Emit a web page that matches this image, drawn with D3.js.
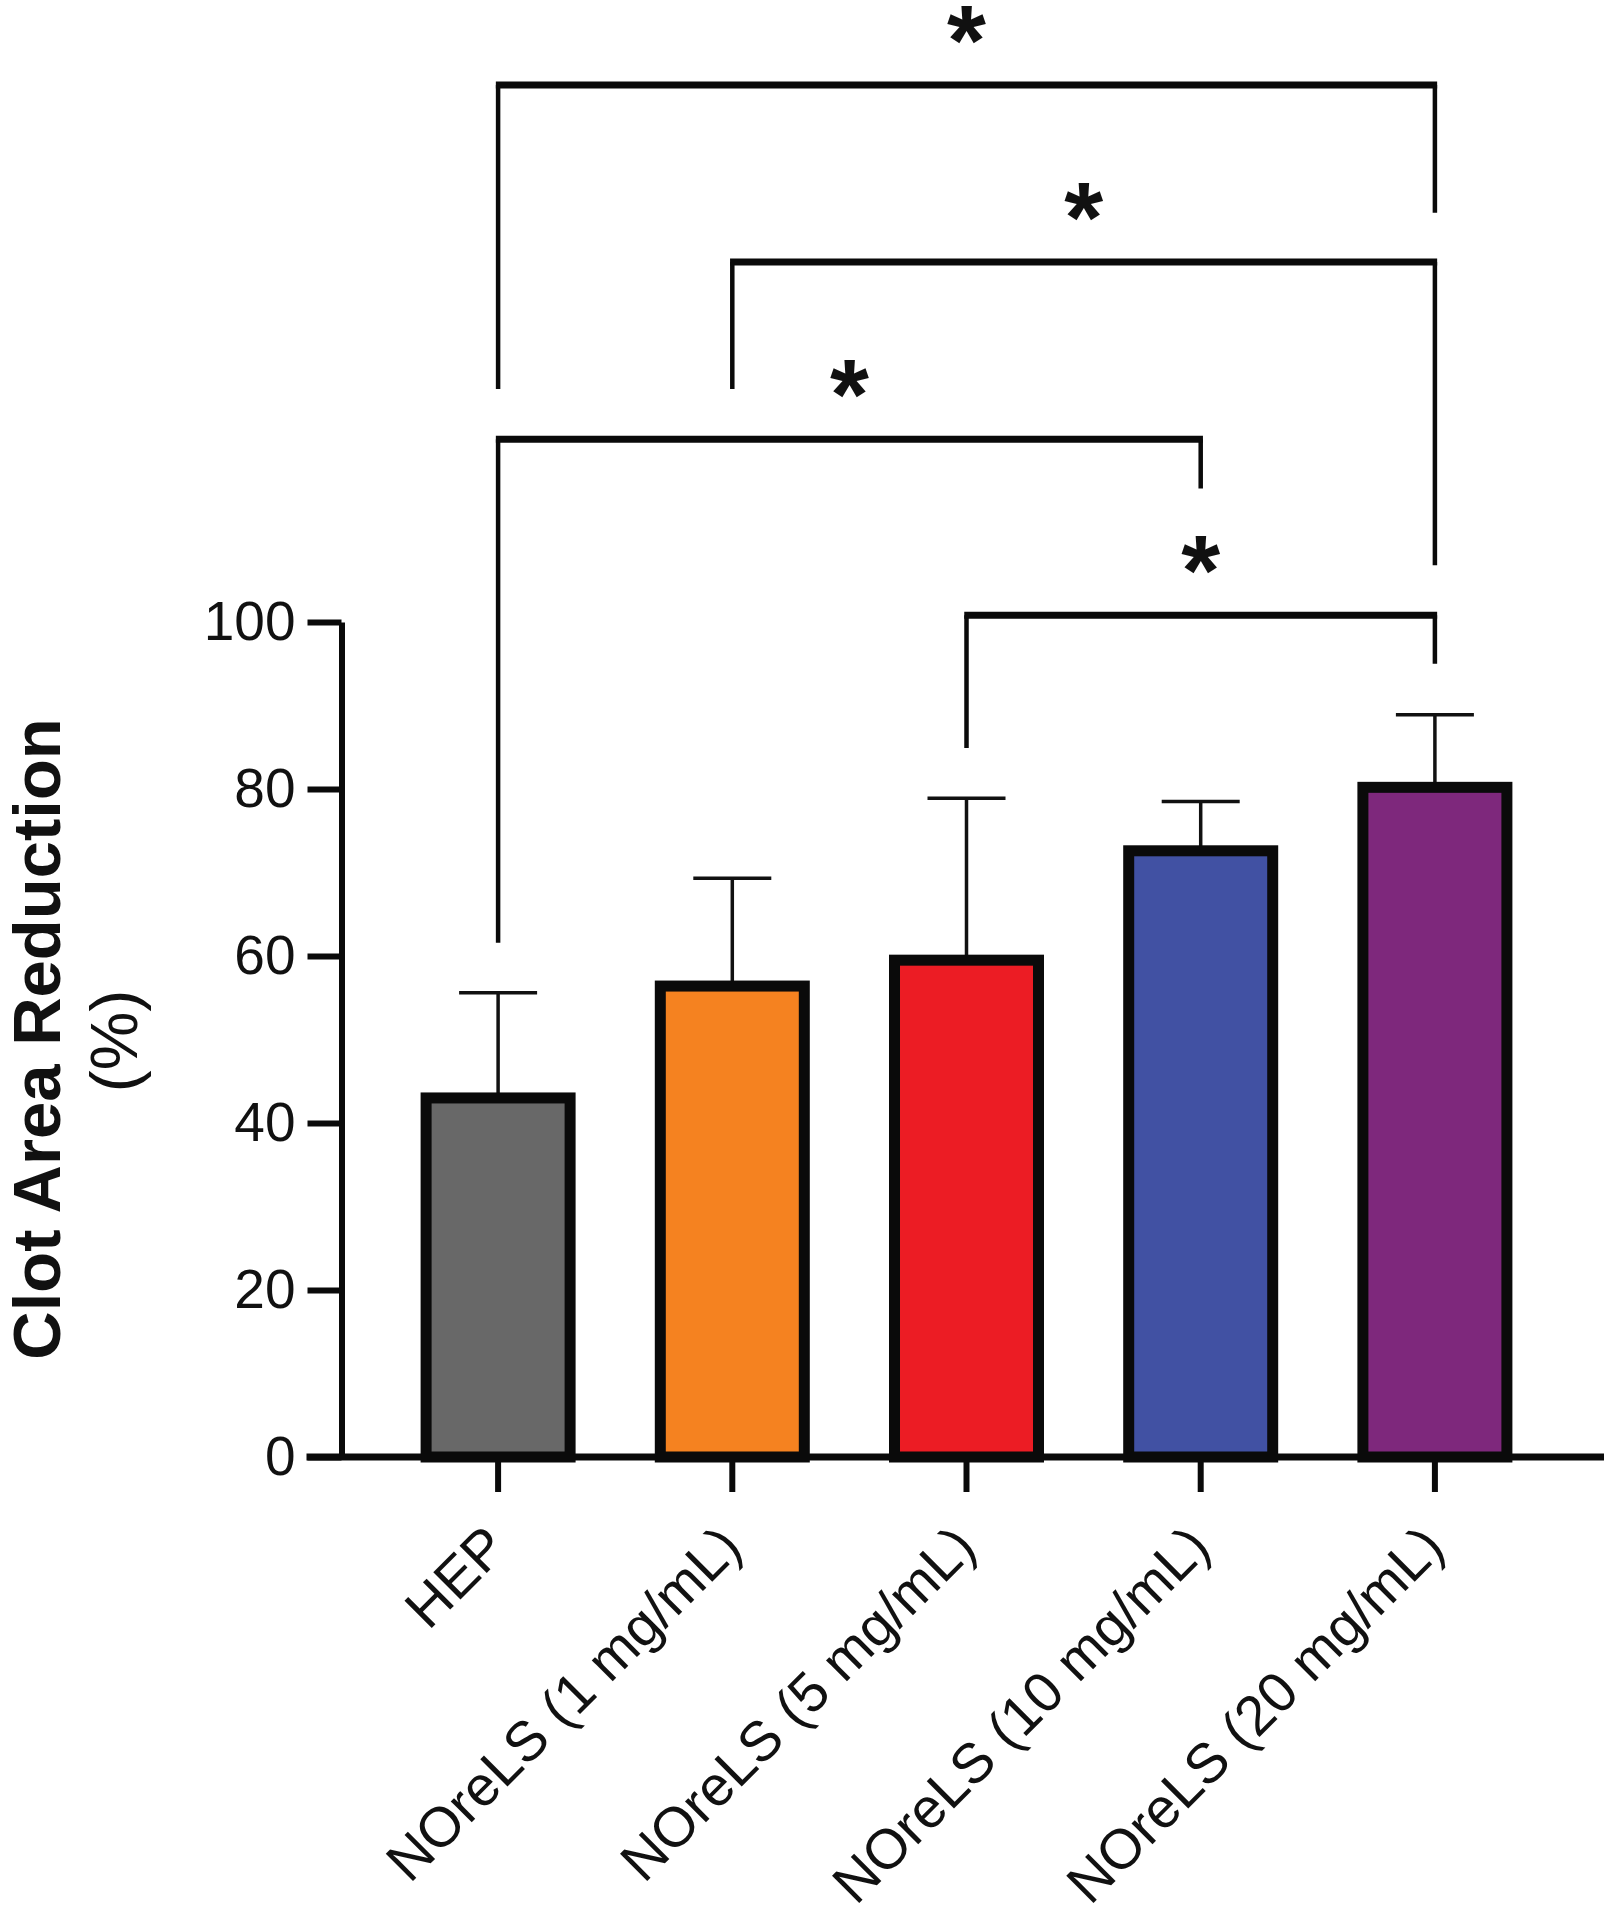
<!DOCTYPE html>
<html>
<head>
<meta charset="utf-8">
<script src="https://cdn.jsdelivr.net/npm/d3@7"></script>
<style>
  html, body { margin: 0; padding: 0; background: #ffffff; }
  svg { display: block; }
  text { font-family: "Liberation Sans", Arial, Helvetica, sans-serif; fill: #111; }
</style>
</head>
<body>
<div id="chart"></div>
<script>
// ---------- data ----------
const categories = ["HEP", "NOreLS (1 mg/mL)", "NOreLS (5 mg/mL)", "NOreLS (10 mg/mL)", "NOreLS (20 mg/mL)"];
const means = [43.0, 56.4, 59.5, 72.6, 80.2];
const sdUpper = [12.6, 12.9, 19.4, 5.9, 8.7];
const barColors = ["#686868", "#F58220", "#EC1C24", "#4151A3", "#7E287C"];
const yTicks = [0, 20, 40, 60, 80, 100];
// significance comparisons: [group A index, group B index, bracket level, leg A end, leg B end] (data units)
const compA = [0, 1, 0, 2];
const compB = [4, 4, 3, 4];
const compLevel = [164.3, 143.1, 121.9, 100.8];
const compLegA = [127.9, 127.9, 61.6, 84.9];
const compLegB = [149.0, 106.8, 116.0, 95.0];
const compLabel = ["*", "*", "*", "*"];
const yTitle = "Clot Area Reduction";
const yUnit = "(%)";

// ---------- layout ----------
const W = 1604, H = 1920;
const axisX = 341.5, baseY = 1457, topY = 622;
const tickLen = 34;

const svg = d3.select("#chart").append("svg")
  .attr("width", W).attr("height", H)
  .attr("viewBox", `0 0 ${W} ${H}`);
svg.append("rect").attr("width", W).attr("height", H).attr("fill", "#fff");

const y = d3.scaleLinear().domain([0, 100]).range([baseY, topY]);
const x = d3.scaleBand().domain(categories).range([381, 1552]).padding(0);
const cx = c => x(c) + x.bandwidth() / 2;
const barW = 144;

// ---------- bars ----------
const rows = categories.map((c, i) => ({ c, m: means[i], e: sdUpper[i], col: barColors[i] }));

// error bars
const eg = svg.append("g");
rows.forEach(d => {
  eg.append("line")
    .attr("x1", cx(d.c)).attr("x2", cx(d.c))
    .attr("y1", y(d.m)).attr("y2", y(d.m + d.e))
    .attr("stroke", "#111").attr("stroke-width", 3.5);
  eg.append("line")
    .attr("x1", cx(d.c) - 39).attr("x2", cx(d.c) + 39)
    .attr("y1", y(d.m + d.e)).attr("y2", y(d.m + d.e))
    .attr("stroke", "#111").attr("stroke-width", 3.5);
});

svg.append("g").selectAll("rect").data(rows).join("rect")
  .attr("x", d => cx(d.c) - barW / 2)
  .attr("width", barW)
  .attr("y", d => y(d.m))
  .attr("height", d => y(0) - y(d.m))
  .attr("fill", d => d.col)
  .attr("stroke", "#0a0a0a")
  .attr("stroke-width", 11);

// ---------- y axis ----------
const yAxis = svg.append("g")
  .attr("transform", `translate(${axisX},0)`)
  .call(d3.axisLeft(y).tickValues(yTicks).tickSize(tickLen).tickSizeOuter(0).tickPadding(12));
yAxis.select(".domain").attr("stroke", "#0a0a0a").attr("stroke-width", 6);
yAxis.selectAll(".tick line").attr("stroke", "#0a0a0a").attr("stroke-width", 6);
yAxis.selectAll(".tick text")
  .style("font-family", '"Liberation Sans", Arial, sans-serif')
  .style("font-size", "55px").attr("fill", "#111");

// ---------- x axis ----------
const xAxis = svg.append("g")
  .attr("transform", `translate(0,${baseY})`)
  .call(d3.axisBottom(x).tickSize(35).tickSizeOuter(0));
xAxis.select(".domain").remove();
xAxis.selectAll(".tick line").attr("stroke", "#0a0a0a").attr("stroke-width", 6).attr("y1", 3);
xAxis.selectAll(".tick text").remove();
svg.append("line")
  .attr("x1", axisX - tickLen - 1).attr("x2", W)
  .attr("y1", baseY).attr("y2", baseY)
  .attr("stroke", "#0a0a0a").attr("stroke-width", 7);

// rotated category labels
svg.append("g").selectAll("text").data(categories).join("text")
  .attr("transform", c => `translate(${cx(c) - 2},1536) rotate(-45)`)
  .attr("text-anchor", "end")
  .attr("dy", "0.35em")
  .style("font-size", "56px")
  .text(c => c);

// ---------- y title ----------
svg.append("text")
  .attr("transform", `translate(60,1039) rotate(-90)`)
  .attr("text-anchor", "middle")
  .style("font-size", "67px").style("font-weight", "bold")
  .text(yTitle);
svg.append("text")
  .attr("transform", `translate(137,1041) rotate(-90)`)
  .attr("text-anchor", "middle")
  .style("font-size", "66px")
  .text(yUnit);

// ---------- significance brackets ----------
const bg = svg.append("g");
compA.forEach((a, i) => {
  const xa = cx(categories[a]), xb = cx(categories[compB[i]]);
  const yl = y(compLevel[i]);
  bg.append("path")
    .attr("d", `M${xa},${y(compLegA[i])}V${yl}M${xb},${yl}V${y(compLegB[i])}`)
    .attr("fill", "none").attr("stroke", "#0a0a0a").attr("stroke-width", 4.5);
  bg.append("line")
    .attr("x1", xa - 2.25).attr("x2", xb + 2.25)
    .attr("y1", yl).attr("y2", yl)
    .attr("stroke", "#0a0a0a").attr("stroke-width", 7);
  bg.append("text")
    .attr("x", (xa + xb) / 2)
    .attr("y", yl - 66 + 0.56 * 100)
    .attr("text-anchor", "middle")
    .style("font-size", "100px").style("font-weight", "bold")
    .text(compLabel[i]);
});
</script>
</body>
</html>
